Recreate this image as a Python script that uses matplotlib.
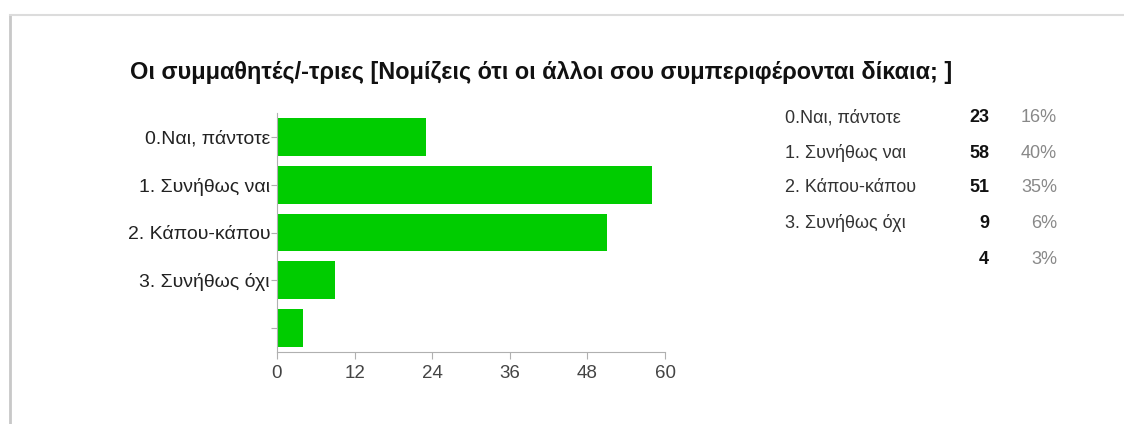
import matplotlib.pyplot as plt
from matplotlib.lines import Line2D

plt.rcParams['font.family'] = ['Liberation Sans', 'DejaVu Sans']

title = "Οι συμμαθητές/-τριες [Νομίζεις ότι οι άλλοι σου συμπεριφέρονται δίκαια; ]"
categories = ["0.Ναι, πάντοτε", "1. Συνήθως ναι", "2. Κάπου-κάπου", "3. Συνήθως όχι", ""]
counts = [23, 58, 51, 9, 4]
percents = ["16%", "40%", "35%", "6%", "3%"]
xticks = [0, 12, 24, 36, 48, 60]

W, H = 1124, 424
fig = plt.figure(figsize=(W / 100, H / 100), dpi=100)

# card border (left + top, like the screenshot)
fig.add_artist(Line2D([10 / W, 10 / W], [0, 1 - 15 / H], color='#c8c8c8', lw=2))
fig.add_artist(Line2D([10 / W, 1], [1 - 15 / H, 1 - 15 / H], color='#dcdcdc', lw=1.5))

fig.text(130 / W, 1 - 72 / H, title, fontsize=16.9, fontweight='bold',
         color='#111111', va='center', ha='left')

ax = fig.add_axes([277 / W, 1 - 352 / H, (665 - 277) / W, (352 - 113) / H])
ypos = list(range(len(categories)))
ax.barh(ypos, counts, height=0.79, color='#00cc00')
ax.set_xlim(0, 60)
ax.set_ylim(4.5, -0.5)
ax.set_xticks(xticks)
ax.set_yticks(ypos)
ax.set_yticklabels(categories)
for s in ['top', 'right']:
    ax.spines[s].set_visible(False)
for s in ['left', 'bottom']:
    ax.spines[s].set_color('#b0b0b0')
ax.tick_params(axis='y', length=4, color='#b0b0b0', labelsize=14,
               labelcolor='#222222', pad=1)
ax.tick_params(axis='x', length=5, color='#b0b0b0', labelsize=13.5,
               labelcolor='#444444', pad=4)

# summary table on the right
row_y = [118, 153, 188, 223, 260]
for i in range(len(categories)):
    y = 1 - row_y[i] / H
    fig.text(785 / W, y, categories[i], fontsize=13, color='#333333',
             ha='left', va='center')
    fig.text(989 / W, y, str(counts[i]), fontsize=13, fontweight='bold',
             color='#111111', ha='right', va='center')
    fig.text(1057 / W, y, percents[i], fontsize=13, color='#888888',
             ha='right', va='center')

fig.savefig('out.png', dpi=100)
